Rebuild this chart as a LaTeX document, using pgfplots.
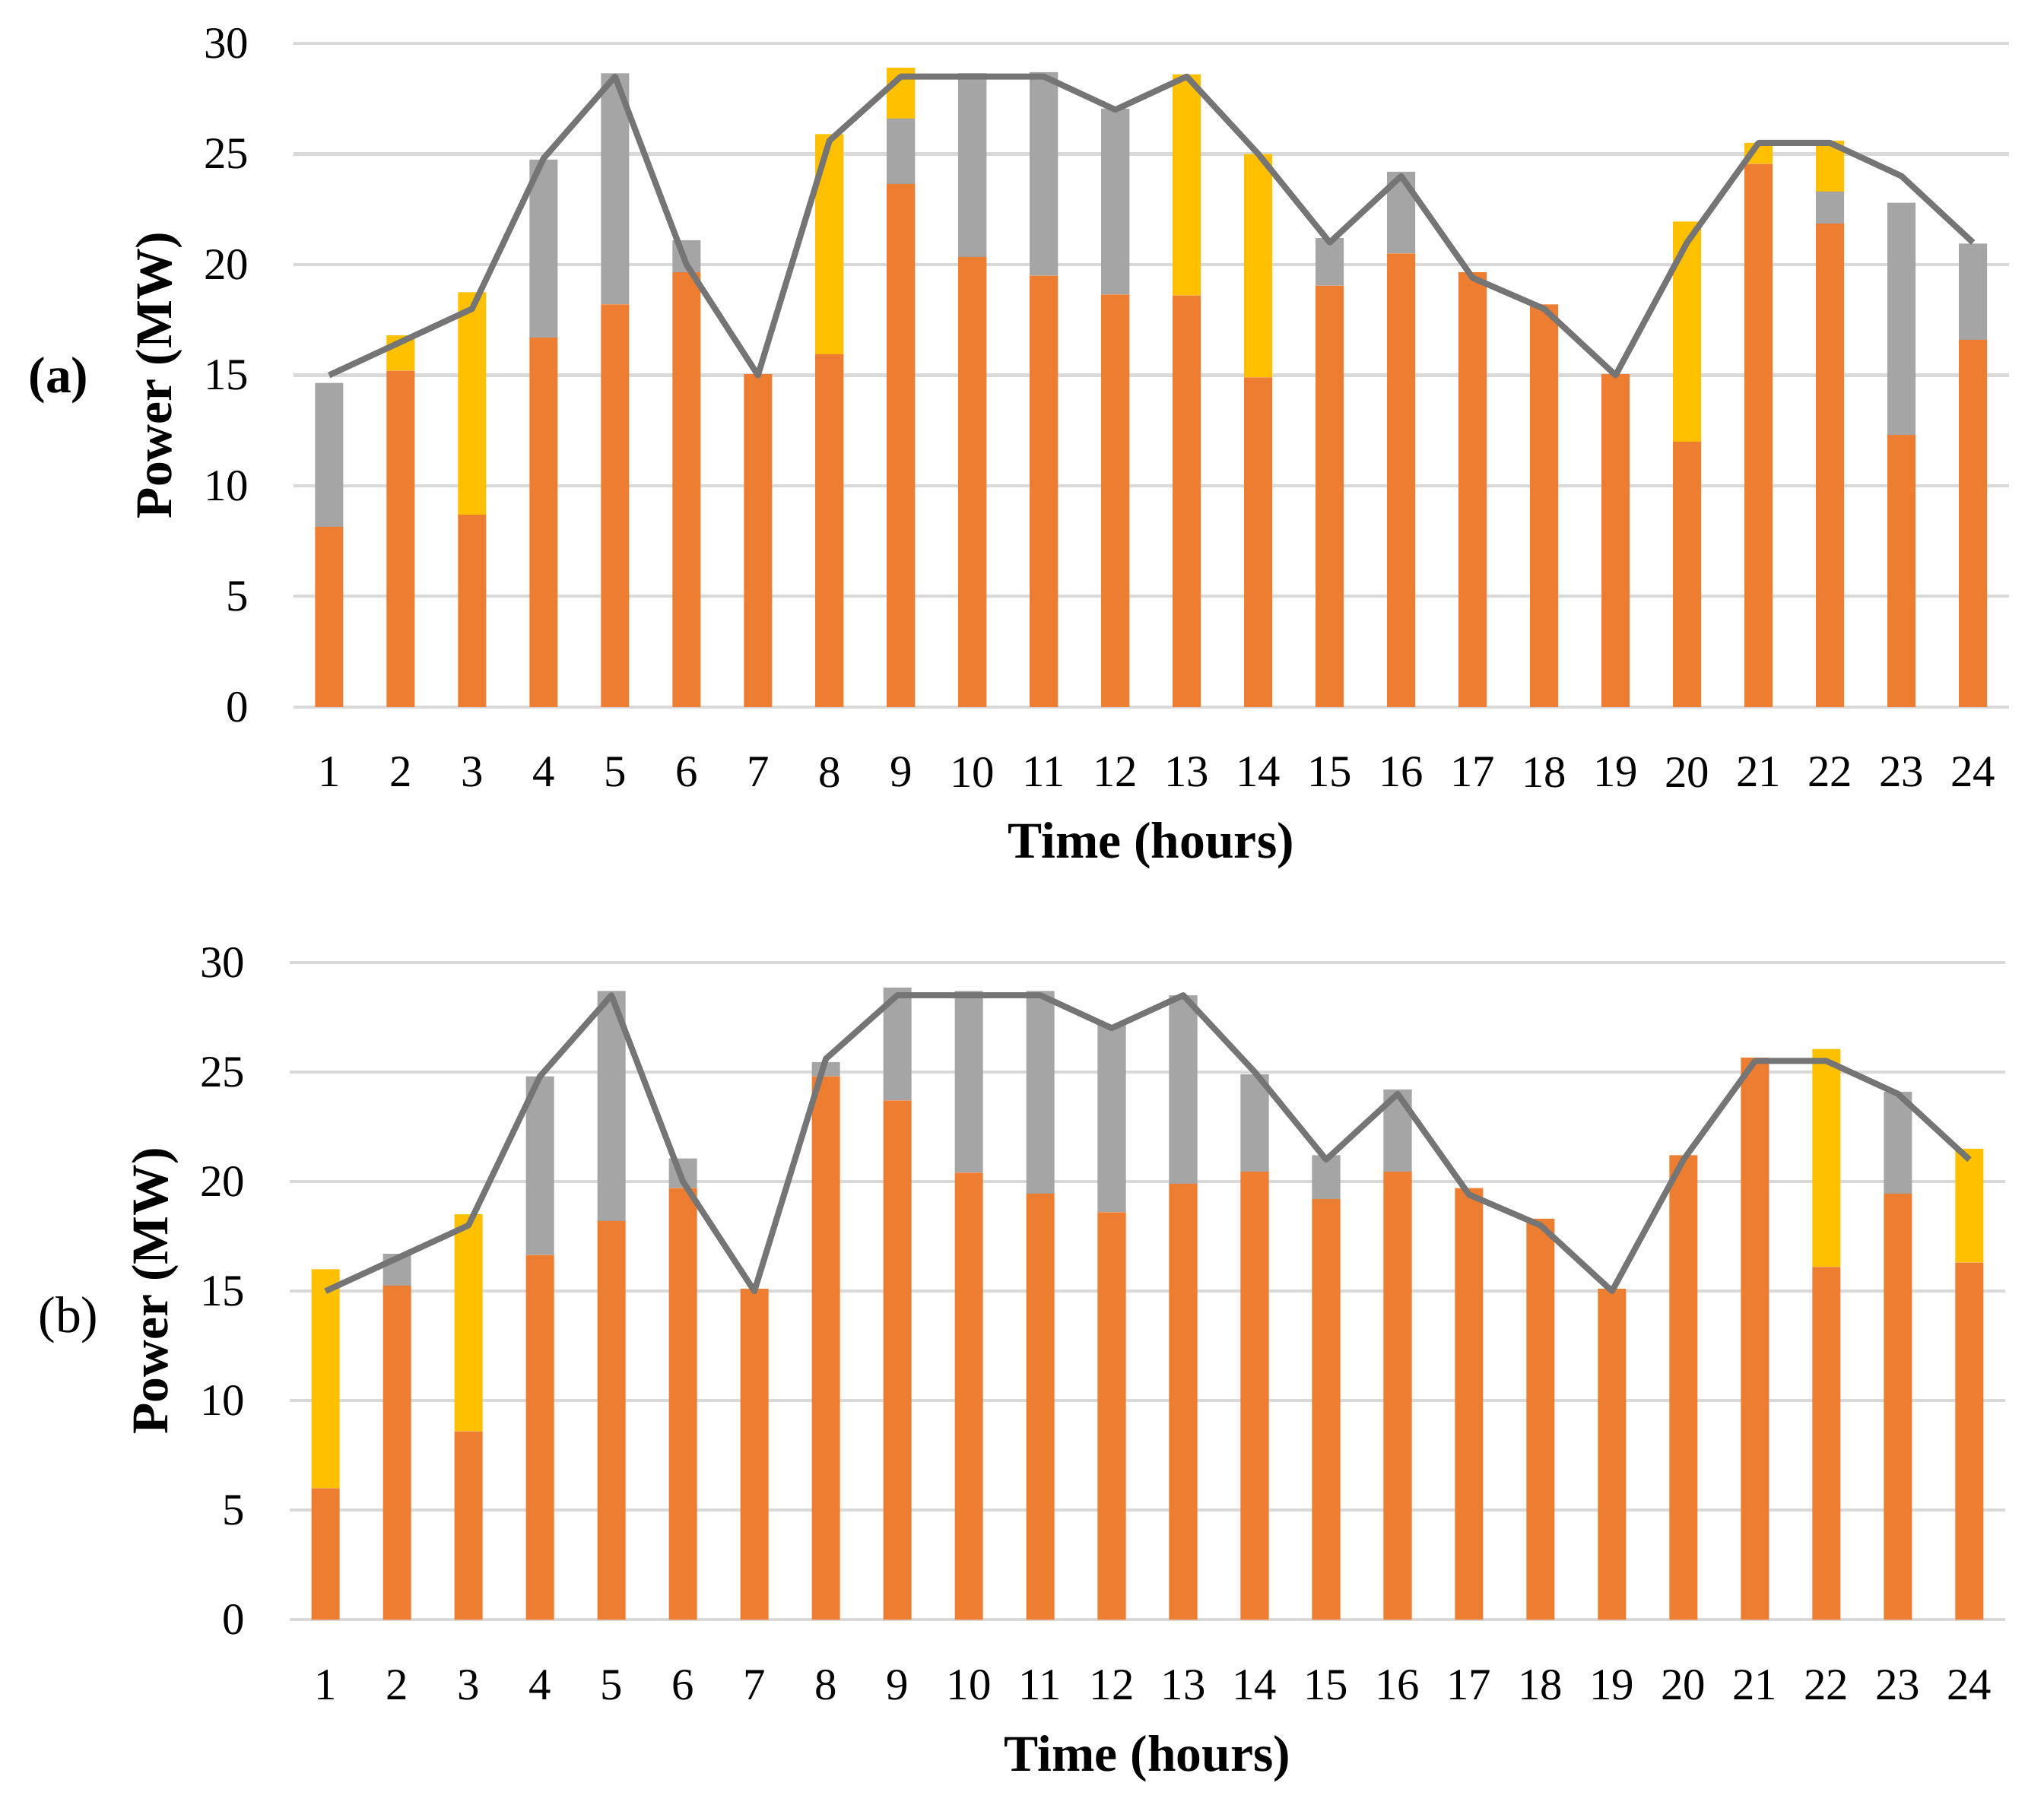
\documentclass[border=0pt]{standalone}
\usepackage{pgfplots}
\pgfplotsset{compat=1.18}
\usepackage{fontspec}
\setmainfont{Liberation Serif}

\definecolor{orng}{HTML}{ED7D31}
\definecolor{gry}{HTML}{A5A5A5}
\definecolor{ylw}{HTML}{FFC000}
\definecolor{lne}{HTML}{757575}
\definecolor{gridgray}{HTML}{D9D9D9}

\pgfplotsset{
  frame/.style={
    scale only axis, width=383.5pt,
    xmin=0.5, xmax=24.5, ymin=0, ymax=30,
  },
  hourbars/.style={
    frame, ybar stacked, bar width=6.3pt,
    xtick={1,...,24}, ytick={0,5,...,30},
    axis line style={draw=none}, major tick length=0pt,
    ymajorgrids, grid style={gridgray, line width=0.7pt},
    /pgf/number format/assume math mode=true,
    tick label style={font=\fontsize{10}{12}\selectfont},
    yticklabel style={xshift=-6.5pt},
    xticklabel style={yshift=-7.7pt},
    xlabel={Time (hours)}, ylabel={Power (MW)},
    every axis x label/.style={at={([yshift=-31pt]axis description cs:0.5,0)},
      anchor=center, font=\bfseries\fontsize{11.5}{13}\selectfont},
    every axis y label/.style={at={([xshift=-30pt]axis description cs:0,0.5)},
      anchor=center, rotate=90, font=\bfseries\fontsize{11.5}{13}\selectfont},
  },
  loadline/.style={frame, hide axis},
}

\begin{document}
\begin{tikzpicture}
\useasboundingbox (0,0) rectangle (457pt,-403.58pt);

% ---------- (a) ----------
\begin{axis}[hourbars, at={(65.6pt,-9.7pt)}, anchor=north west, height=148.4pt]
% orange
\addplot[fill=orng, draw=none] coordinates {
 (1,8.15) (2,15.2) (3,8.7) (4,16.7) (5,18.2) (6,19.65) (7,15.05) (8,15.95)
 (9,23.65) (10,20.35) (11,19.5) (12,18.65) (13,18.6) (14,14.9) (15,19.05) (16,20.5)
 (17,19.65) (18,18.2) (19,15.05) (20,12.0) (21,24.55) (22,21.85) (23,12.3) (24,16.6)};
% grey
\addplot[fill=gry, draw=none] coordinates {
 (1,6.5) (2,0) (3,0) (4,8.05) (5,10.45) (6,1.45) (7,0) (8,0)
 (9,2.95) (10,8.3) (11,9.2) (12,8.4) (13,0) (14,0) (15,2.15) (16,3.7)
 (17,0) (18,0) (19,0) (20,0) (21,0) (22,1.45) (23,10.5) (24,4.35)};
% yellow
\addplot[fill=ylw, draw=none] coordinates {
 (1,0) (2,1.6) (3,10.05) (4,0) (5,0) (6,0) (7,0) (8,9.95)
 (9,2.3) (10,0) (11,0) (12,0) (13,10.0) (14,10.1) (15,0) (16,0)
 (17,0) (18,0) (19,0) (20,9.95) (21,0.95) (22,2.3) (23,0) (24,0)};
\end{axis}
\begin{axis}[loadline, at={(65.6pt,-9.7pt)}, anchor=north west, height=148.4pt]
\addplot[lne, line width=1.35pt, line join=round, mark=none] coordinates {
 (1,15) (2,16.5) (3,18) (4,24.8) (5,28.5) (6,20) (7,15) (8,25.6)
 (9,28.5) (10,28.5) (11,28.5) (12,27) (13,28.5) (14,25) (15,21) (16,24)
 (17,19.4) (18,18) (19,15) (20,21) (21,25.5) (22,25.5) (23,24) (24,21)};
\end{axis}
\node[font=\bfseries\fontsize{11.5}{13}\selectfont] at (13.1pt,-85pt) {(a)};

% ---------- (b) ----------
\begin{axis}[hourbars, at={(64.8pt,-215.2pt)}, anchor=north west, height=147pt]
% orange
\addplot[fill=orng, draw=none] coordinates {
 (1,6.0) (2,15.25) (3,8.6) (4,16.65) (5,18.2) (6,19.7) (7,15.1) (8,24.8)
 (9,23.7) (10,20.4) (11,19.45) (12,18.6) (13,19.9) (14,20.45) (15,19.2) (16,20.45)
 (17,19.7) (18,18.3) (19,15.1) (20,21.2) (21,25.65) (22,16.1) (23,19.45) (24,16.3)};
% grey
\addplot[fill=gry, draw=none] coordinates {
 (1,0) (2,1.45) (3,0) (4,8.15) (5,10.5) (6,1.35) (7,0) (8,0.65)
 (9,5.15) (10,8.3) (11,9.25) (12,8.55) (13,8.6) (14,4.45) (15,2.0) (16,3.75)
 (17,0) (18,0) (19,0) (20,0) (21,0) (22,0) (23,4.65) (24,0)};
% yellow
\addplot[fill=ylw, draw=none] coordinates {
 (1,10.0) (2,0) (3,9.9) (4,0) (5,0) (6,0) (7,0) (8,0)
 (9,0) (10,0) (11,0) (12,0) (13,0) (14,0) (15,0) (16,0)
 (17,0) (18,0) (19,0) (20,0) (21,0) (22,9.95) (23,0) (24,5.2)};
\end{axis}
\begin{axis}[loadline, at={(64.8pt,-215.2pt)}, anchor=north west, height=147pt]
\addplot[lne, line width=1.35pt, line join=round, mark=none] coordinates {
 (1,15) (2,16.5) (3,18) (4,24.8) (5,28.5) (6,20) (7,15) (8,25.6)
 (9,28.5) (10,28.5) (11,28.5) (12,27) (13,28.5) (14,25) (15,21) (16,24)
 (17,19.4) (18,18) (19,15) (20,21) (21,25.5) (22,25.5) (23,24) (24,21)};
\end{axis}
\node[font=\fontsize{11.5}{13}\selectfont] at (15.3pt,-295.1pt) {(b)};
\end{tikzpicture}
\end{document}
